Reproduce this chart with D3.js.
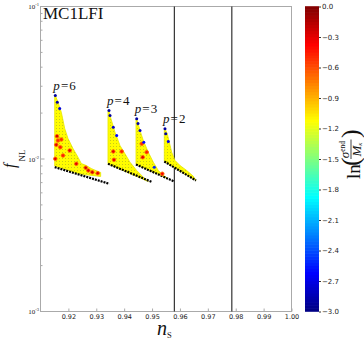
<!DOCTYPE html>
<html>
<head>
<meta charset="utf-8">
<script src="https://cdn.jsdelivr.net/npm/d3@7"></script>
<style>
  body { margin: 0; background: #fff; }
</style>
</head>
<body>
<div id="chart"></div>
<script>
// axis ticks
var nsTicks = [0.92, 0.93, 0.94, 0.95, 0.96, 0.97, 0.98, 0.99, 1.00];
var fTicks = [1e-3, 1e-2, 1e-1];
var cbTicks = [0, -0.3, -0.6, -0.9, -1.2, -1.5, -1.8, -2.1, -2.4, -2.7, -3.0];
// observational bounds on n_s
var boundLines = [0.958, 0.9786];

// cluster envelopes [n_s, f_NL]
var clusterNames = ['6', '4', '3', '2'];
var fillValue = -1.12;
var p6Outline = [[0.91509, 0.02609], [0.91531, 0.02609], [0.91627, 0.02358], [0.91746, 0.02027],
    [0.91868, 0.01585], [0.91986, 0.01363], [0.92165, 0.01172], [0.92345, 0.01027],
    [0.92463, 0.00934], [0.92642, 0.00906], [0.92821, 0.00866], [0.93062, 0.00828],
    [0.93158, 0.00816], [0.93158, 0.00768], [0.92416, 0.00797], [0.91509, 0.00900]];
var p4Outline = [[0.93420, 0.02080], [0.93456, 0.02080], [0.93492, 0.01929], [0.93671, 0.01498],
    [0.93850, 0.01226], [0.94030, 0.01081], [0.94209, 0.00953], [0.94449, 0.00841],
    [0.94686, 0.00760], [0.94865, 0.00712], [0.93420, 0.00930]];
var p3Outline = [[0.94424, 0.01835], [0.94449, 0.01835], [0.94568, 0.01538], [0.94686, 0.01322],
    [0.94865, 0.01108], [0.95044, 0.00953], [0.95224, 0.00841], [0.95403, 0.00780],
    [0.95536, 0.00751], [0.94424, 0.00920]];
var p2Outline = [[0.95439, 0.01578], [0.95464, 0.01578], [0.95546, 0.01463], [0.95618, 0.01288],
    [0.95704, 0.01108], [0.95823, 0.00978], [0.96002, 0.00906], [0.96242, 0.00841],
    [0.96479, 0.00771], [0.96575, 0.00723], [0.95439, 0.00963]];

// lower edges (dense black points)
var p6Edge = [[0.91509, 0.00884], [0.93467, 0.00688]];
var p4Edge = [[0.93420, 0.00930], [0.95009, 0.00705]];
var p3Edge = [[0.94424, 0.00920], [0.95797, 0.00712]];
var p2Edge = [[0.95439, 0.00963], [0.96575, 0.00723]];

// points with larger ln(sigma_end/M) [n_s, f_NL, value]
var hotPoints = [
    [0.91592, 0.01411, -0.25], [0.91567, 0.01239, -0.3], [0.91710, 0.01195, -0.45],
    [0.91627, 0.01322, -0.5], [0.91807, 0.01054, -0.45], [0.92047, 0.01137, -0.3],
    [0.91531, 0.01003, -0.3], [0.91746, 0.01342, -0.5], [0.92284, 0.00930, -0.3],
    [0.92621, 0.00876, -0.25], [0.92714, 0.00841, -0.3], [0.92857, 0.00819, -0.25],
    [0.93051, 0.00807, -0.3],
    [0.93610, 0.01120, -0.3], [0.93911, 0.01120, -0.45], [0.93635, 0.00988, -0.3],
    [0.94629, 0.01258, -0.5], [0.94808, 0.01108, -0.45], [0.94664, 0.01027, -0.3],
    [0.95367, 0.00800, -0.35]
];
// points with small ln(sigma_end/M)
var coldPoints = [
    [0.91531, 0.02609, -2.9], [0.91602, 0.02358, -2.9], [0.91688, 0.02144, -2.7],
    [0.93456, 0.02080, -2.9], [0.93492, 0.01929, -2.9], [0.93610, 0.01616, -2.8], [0.93732, 0.01426, -2.6],
    [0.94449, 0.01835, -2.9], [0.94496, 0.01709, -2.9], [0.94568, 0.01538, -2.8], [0.94704, 0.01288, -2.6],
    [0.95080, 0.00884, -2.5],
    [0.95464, 0.01578, -2.9], [0.95490, 0.01463, -2.9], [0.95582, 0.01302, -2.7]
];

(function () {
    var outlines = [p6Outline, p4Outline, p3Outline, p2Outline];
    var edges = [p6Edge, p4Edge, p3Edge, p2Edge];

    var W = 364, H = 339,
        plotLeft = 40.5, plotRight = 291.5, plotTop = 6.5, plotBottom = 311.5,
        cbLeft = 305, cbRight = 319;

    var x = d3.scaleLinear().domain([0.91, 1.0]).range([plotLeft, plotRight]);
    var y = d3.scaleLog().domain([1e-3, 1e-1]).range([plotBottom, plotTop]);
    var cb = d3.scaleLinear().domain([-3, 0]).range([plotBottom, plotTop]);

    function jet(v) {
        var t = (v + 3) / 3;
        function c(a) { return Math.round(255 * Math.max(0, Math.min(1, 1.5 - Math.abs(4 * t - a)))); }
        return d3.rgb(c(3), c(2), c(1)).toString();
    }

    var serif = '"Liberation Serif", "DejaVu Serif", serif',
        sans = '"DejaVu Sans", sans-serif';

    var svg = d3.select('#chart').append('svg')
        .attr('width', W).attr('height', H);

    // plot frame
    svg.append('rect')
        .attr('x', plotLeft).attr('y', plotTop)
        .attr('width', plotRight - plotLeft).attr('height', plotBottom - plotTop)
        .attr('fill', 'none').attr('stroke', '#aaa').attr('stroke-width', 1);

    // x axis
    var xAxis = svg.append('g')
        .attr('transform', 'translate(0,' + plotBottom + ')')
        .call(d3.axisBottom(x).tickValues(nsTicks).tickSize(-3).tickPadding(3)
            .tickFormat(d3.format('.2f')));
    xAxis.select('.domain').remove();
    xAxis.selectAll('line').attr('stroke', '#aaa');
    xAxis.selectAll('text').attr('font-family', sans).attr('font-size', 6.5).attr('fill', '#222');

    // y axis: major and minor ticks
    var minor = y.ticks().filter(function (d) { return fTicks.indexOf(d) < 0; });
    svg.append('g').selectAll('line').data(minor).enter().append('line')
        .attr('x1', plotLeft).attr('x2', plotLeft + 2)
        .attr('y1', function (d) { return y(d); }).attr('y2', function (d) { return y(d); })
        .attr('stroke', '#aaa');
    svg.append('g').selectAll('line').data(fTicks).enter().append('line')
        .attr('x1', plotLeft).attr('x2', plotLeft + 4)
        .attr('y1', function (d) { return y(d); }).attr('y2', function (d) { return y(d); })
        .attr('stroke', '#aaa');
    var yLab = svg.append('g').selectAll('text').data(fTicks).enter().append('text')
        .attr('x', 39).attr('y', function (d) { return y(d) + 2.5; })
        .attr('text-anchor', 'end')
        .attr('font-family', serif).attr('font-size', 7).attr('fill', '#222')
        .text('10');
    yLab.append('tspan')
        .attr('font-size', 4.5).attr('dy', -3)
        .text(function (d) { return '-' + Math.round(-Math.log10(d)); });

    // observational bounds
    svg.append('g').selectAll('line').data(boundLines).enter().append('line')
        .attr('x1', function (d) { return x(d); }).attr('x2', function (d) { return x(d); })
        .attr('y1', plotTop).attr('y2', plotBottom)
        .attr('stroke', '#333').attr('stroke-width', 1.2);

    // grainy fill for the point clouds
    var defs = svg.append('defs');
    var pat = defs.append('pattern').attr('id', 'cloud')
        .attr('patternUnits', 'userSpaceOnUse').attr('width', 3).attr('height', 3);
    pat.append('rect').attr('width', 3).attr('height', 3).attr('fill', jet(fillValue));
    pat.append('rect').attr('x', 2).attr('y', 2).attr('width', 1).attr('height', 1)
        .attr('fill', '#c9c918');

    var toPx = function (pts) { return pts.map(function (d) { return [x(d[0]), y(d[1])]; }); };
    var line = d3.line();

    var clusters = svg.append('g');
    clusters.selectAll('path.cloud').data(outlines).enter().append('path')
        .attr('class', 'cloud')
        .attr('d', function (d) { return line(toPx(d)) + 'Z'; })
        .attr('fill', 'url(#cloud)')
        .attr('stroke', '#e6e600').attr('stroke-width', 0.8);

    clusters.selectAll('path.edge').data(edges).enter().append('path')
        .attr('class', 'edge')
        .attr('d', function (d) { return line(toPx(d)); })
        .attr('fill', 'none').attr('stroke', '#000')
        .attr('stroke-width', 2.2).attr('stroke-dasharray', '2,1');

    clusters.selectAll('circle.hot').data(hotPoints).enter().append('circle')
        .attr('class', 'hot')
        .attr('cx', function (d) { return x(d[0]); }).attr('cy', function (d) { return y(d[1]); })
        .attr('r', 1.8)
        .attr('fill', function (d) { return jet(d[2]); })
        .attr('stroke', jet(-0.7)).attr('stroke-width', 0.9);

    clusters.selectAll('circle.cold').data(coldPoints).enter().append('circle')
        .attr('class', 'cold')
        .attr('cx', function (d) { return x(d[0]); }).attr('cy', function (d) { return y(d[1]); })
        .attr('r', 1.5)
        .attr('fill', function (d) { return jet(d[2]); });

    // cluster labels p = n
    var lab = clusters.selectAll('text.plab').data(outlines).enter().append('text')
        .attr('class', 'plab')
        .attr('x', function (d) { return x(d[1][0]) - 2; })
        .attr('y', function (d) { return y(d[1][1]) - 5.5; })
        .attr('font-family', serif).attr('font-size', 13).attr('fill', '#111');
    lab.append('tspan').attr('font-style', 'italic').text('p');
    lab.append('tspan').text(function (d, i) { return '\u200a=\u200a' + clusterNames[i]; });

    // title
    svg.append('text')
        .attr('x', 43).attr('y', 18.5)
        .attr('font-family', serif).attr('font-size', 17).attr('fill', '#111')
        .text('MC1LFI');

    // axis titles
    var xt = svg.append('text')
        .attr('x', 157).attr('y', 334.5)
        .attr('font-family', serif).attr('fill', '#111');
    xt.append('tspan').attr('font-size', 20).attr('font-style', 'italic').text('n');
    xt.append('tspan').attr('font-size', 8.5).attr('dy', 3.5).text('S');

    var yt = svg.append('text')
        .attr('transform', 'translate(15,168) rotate(-90)')
        .attr('font-family', serif).attr('fill', '#111');
    yt.append('tspan').attr('font-size', 16).attr('font-style', 'italic').text('f');
    yt.append('tspan').attr('font-size', 9).attr('dx', 2).attr('dy', 10).text('NL');

    // colour bar
    var steps = d3.range(-3, 0, 0.03);
    svg.append('g').selectAll('rect').data(steps).enter().append('rect')
        .attr('x', cbLeft).attr('width', cbRight - cbLeft)
        .attr('y', function (d) { return cb(d + 0.03) - 0.3; })
        .attr('height', function (d) { return cb(d) - cb(d + 0.03) + 0.6; })
        .attr('fill', function (d) { return jet(d + 0.015); });

    var cbAxis = svg.append('g')
        .attr('transform', 'translate(' + cbRight + ',0)')
        .call(d3.axisRight(cb).tickValues(cbTicks).tickSize(2).tickPadding(1)
            .tickFormat(d3.format('.1f')));
    cbAxis.select('.domain').remove();
    cbAxis.selectAll('line').attr('stroke', '#333');
    cbAxis.selectAll('text').attr('font-family', sans).attr('font-size', 7).attr('fill', '#222');

    // colour bar title ln(sigma_end / M_kappa)
    var ct = svg.append('g')
        .attr('transform', 'translate(351,179) rotate(-90)')
        .attr('font-family', serif).attr('fill', '#111');
    ct.append('text').attr('x', 0).attr('y', 9).attr('font-size', 19).text('ln');
    ct.append('text').attr('x', 13).attr('y', 7.5).attr('font-size', 26).text('(');
    ct.append('text').attr('x', 41).attr('y', 7.5).attr('font-size', 26).text(')');
    var num = ct.append('text').attr('x', 29.5).attr('y', -2.5)
        .attr('text-anchor', 'middle').attr('font-size', 13);
    num.append('tspan').attr('font-style', 'italic').text('\u03c3');
    num.append('tspan').attr('font-size', 7.5).attr('dy', -3.5).text('end');
    ct.append('line').attr('x1', 20).attr('x2', 39.5).attr('y1', 0).attr('y2', 0)
        .attr('stroke', '#111').attr('stroke-width', 0.8);
    var den = ct.append('text').attr('x', 29.5).attr('y', 9.5)
        .attr('text-anchor', 'middle').attr('font-size', 13);
    den.append('tspan').attr('font-style', 'italic').text('M');
    den.append('tspan').attr('font-size', 6.5).attr('font-style', 'italic').attr('dy', 1.5).text('\u03ba');
})();
</script>
</body>
</html>
